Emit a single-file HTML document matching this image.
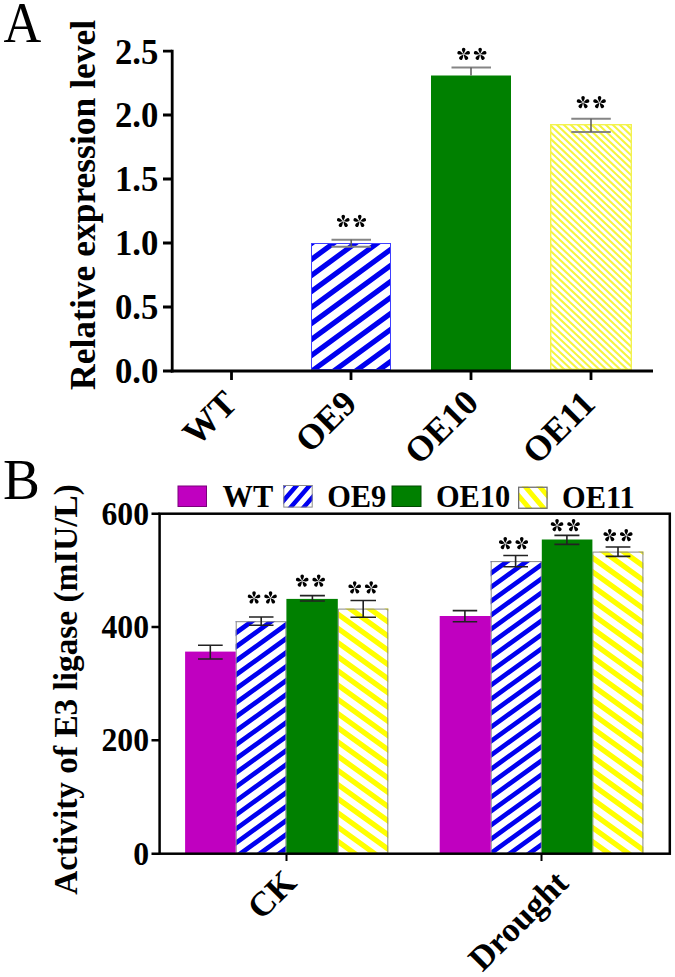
<!DOCTYPE html>
<html><head><meta charset="utf-8">
<style>
html,body{margin:0;padding:0;background:#fff;}
body{width:675px;height:977px;overflow:hidden;}
svg{display:block;}
text{font-family:"Liberation Serif",serif;fill:#000;}
</style></head>
<body>
<svg width="675" height="977" viewBox="0 0 675 977">
<defs>
<g id="star"><path d="M0,-0.3 C-0.35,-1.2 -1.80,-3.45 -1.80,-4.75 A1.8,1.8 0 0 1 1.80,-4.75 C1.80,-3.45 0.35,-1.2 0,-0.3Z" transform="rotate(0)"/><path d="M0,-0.3 C-0.35,-1.2 -1.80,-3.45 -1.80,-4.75 A1.8,1.8 0 0 1 1.80,-4.75 C1.80,-3.45 0.35,-1.2 0,-0.3Z" transform="rotate(72)"/><path d="M0,-0.3 C-0.35,-1.2 -1.80,-3.45 -1.80,-4.75 A1.8,1.8 0 0 1 1.80,-4.75 C1.80,-3.45 0.35,-1.2 0,-0.3Z" transform="rotate(144)"/><path d="M0,-0.3 C-0.35,-1.2 -1.80,-3.45 -1.80,-4.75 A1.8,1.8 0 0 1 1.80,-4.75 C1.80,-3.45 0.35,-1.2 0,-0.3Z" transform="rotate(216)"/><path d="M0,-0.3 C-0.35,-1.2 -1.80,-3.45 -1.80,-4.75 A1.8,1.8 0 0 1 1.80,-4.75 C1.80,-3.45 0.35,-1.2 0,-0.3Z" transform="rotate(288)"/></g>
<clipPath id="c1"><rect x="311.0" y="243.0" width="80.00" height="127.00"/></clipPath>
<clipPath id="c2"><rect x="550.0" y="124.0" width="82.00" height="246.00"/></clipPath>
<clipPath id="c3"><rect x="283.3" y="485.0" width="29.40" height="22.60"/></clipPath>
<clipPath id="c4"><rect x="518.0" y="486.6" width="29.70" height="22.30"/></clipPath>
<clipPath id="c5"><rect x="235.7" y="621.2" width="50.70" height="232.40"/></clipPath>
<clipPath id="c6"><rect x="337.8" y="608.6" width="50.50" height="245.00"/></clipPath>
<clipPath id="c7"><rect x="490.7" y="561.1" width="51.10" height="292.50"/></clipPath>
<clipPath id="c8"><rect x="592.4" y="551.6" width="51.00" height="302.00"/></clipPath>
</defs>
<g clip-path="url(#c1)"><path d="M274.95,238.00L87.44,375.00M296.85,238.00L109.34,375.00M318.75,238.00L131.24,375.00M340.65,238.00L153.14,375.00M362.55,238.00L175.04,375.00M384.45,238.00L196.94,375.00M406.35,238.00L218.84,375.00M428.25,238.00L240.74,375.00M450.15,238.00L262.64,375.00M472.05,238.00L284.54,375.00M493.95,238.00L306.44,375.00M515.85,238.00L328.34,375.00M537.75,238.00L350.24,375.00M559.65,238.00L372.14,375.00M581.55,238.00L394.04,375.00M603.45,238.00L415.94,375.00" stroke="#0000f0" stroke-width="5.2" fill="none"/></g><rect x="311.5" y="243.5" width="79.00" height="126.00" fill="none" stroke="#4040ff" stroke-width="1"/>
<rect x="431" y="75.5" width="80" height="295" fill="#008000"/>
<g clip-path="url(#c2)"><path d="M270.64,119.00L542.15,375.00M277.64,119.00L549.15,375.00M284.64,119.00L556.15,375.00M291.64,119.00L563.15,375.00M298.64,119.00L570.15,375.00M305.64,119.00L577.15,375.00M312.64,119.00L584.15,375.00M319.64,119.00L591.15,375.00M326.64,119.00L598.15,375.00M333.64,119.00L605.15,375.00M340.64,119.00L612.15,375.00M347.64,119.00L619.15,375.00M354.64,119.00L626.15,375.00M361.64,119.00L633.15,375.00M368.64,119.00L640.15,375.00M375.64,119.00L647.15,375.00M382.64,119.00L654.15,375.00M389.64,119.00L661.15,375.00M396.64,119.00L668.15,375.00M403.64,119.00L675.15,375.00M410.64,119.00L682.15,375.00M417.64,119.00L689.15,375.00M424.64,119.00L696.15,375.00M431.64,119.00L703.15,375.00M438.64,119.00L710.15,375.00M445.64,119.00L717.15,375.00M452.64,119.00L724.15,375.00M459.64,119.00L731.15,375.00M466.64,119.00L738.15,375.00M473.64,119.00L745.15,375.00M480.64,119.00L752.15,375.00M487.64,119.00L759.15,375.00M494.64,119.00L766.15,375.00M501.64,119.00L773.15,375.00M508.64,119.00L780.15,375.00M515.64,119.00L787.15,375.00M522.64,119.00L794.15,375.00M529.64,119.00L801.15,375.00M536.64,119.00L808.15,375.00M543.64,119.00L815.15,375.00M550.64,119.00L822.15,375.00M557.64,119.00L829.15,375.00M564.64,119.00L836.15,375.00M571.64,119.00L843.15,375.00M578.64,119.00L850.15,375.00M585.64,119.00L857.15,375.00M592.64,119.00L864.15,375.00M599.64,119.00L871.15,375.00M606.64,119.00L878.15,375.00M613.64,119.00L885.15,375.00M620.64,119.00L892.15,375.00M627.64,119.00L899.15,375.00M634.64,119.00L906.15,375.00" stroke="#f4f440" stroke-width="2.1" fill="none"/></g><rect x="550.7" y="124.7" width="80.60" height="244.60" fill="none" stroke="#f2f250" stroke-width="1.4"/>
<g stroke="#858585" stroke-width="2" fill="none">
<path d="M331.5,239.7 H371 M331.5,246.7 H371"/>
<path d="M451.5,67.6 H491"/>
<path d="M571.3,118.8 H610.8 M571.3,132.1 H610.8"/>
</g>
<g stroke="#5a5a5a" stroke-width="1.5" fill="none">
<path d="M351.2,239.7 V246.7 M471,67.6 V75.5 M591,118.8 V132.1"/>
</g>
<g fill="#000">
<use href="#star" x="343.25" y="221.35"/><use href="#star" x="359.75" y="221.35"/>
<use href="#star" x="463.65" y="54.25"/><use href="#star" x="480.15" y="54.25"/>
<use href="#star" x="583.05" y="102.55"/><use href="#star" x="599.55" y="102.55"/>
</g>
<g stroke="#000" stroke-width="2.8" fill="none">
<path d="M172.2,49.8 V372.4"/>
<path d="M170.8,371 H653"/>
<path d="M163,51.2 H172 M163,115 H172 M163,179 H172 M163,243 H172 M163,307 H172 M163,371 H172"/>
<path d="M231.5,371 V380 M351,371 V380 M471,371 V380 M591,371 V380"/>
</g>
<rect x="178" y="486" width="28.5" height="20.5" fill="#c000c0" stroke="#7a007a" stroke-width="1"/>
<g clip-path="url(#c3)"><path d="M262.40,480.00L234.15,512.60M275.40,480.00L247.15,512.60M288.40,480.00L260.15,512.60M301.40,480.00L273.15,512.60M314.40,480.00L286.15,512.60M327.40,480.00L299.15,512.60M340.40,480.00L312.15,512.60M353.40,480.00L325.15,512.60" stroke="#0000f0" stroke-width="4.5" fill="none"/></g><rect x="283.8" y="485.5" width="28.40" height="21.60" fill="none" stroke="#8a8a8a" stroke-width="1"/>
<rect x="392" y="486" width="29" height="20.5" fill="#008000" stroke="#004a00" stroke-width="1"/>
<g clip-path="url(#c4)"><path d="M477.49,481.60L505.04,513.90M491.99,481.60L519.54,513.90M506.49,481.60L534.04,513.90M520.99,481.60L548.54,513.90M535.49,481.60L563.04,513.90M549.99,481.60L577.54,513.90M564.49,481.60L592.04,513.90" stroke="#ffff00" stroke-width="5.0" fill="none"/></g><rect x="518.65" y="487.25" width="28.40" height="21.00" fill="none" stroke="#707070" stroke-width="1.3"/>
<g clip-path="url(#c5)"><path d="M220.20,616.20L-115.69,858.60M239.60,616.20L-96.29,858.60M259.00,616.20L-76.89,858.60M278.40,616.20L-57.49,858.60M297.80,616.20L-38.09,858.60M317.20,616.20L-18.69,858.60M336.60,616.20L0.71,858.60M356.00,616.20L20.11,858.60M375.40,616.20L39.51,858.60M394.80,616.20L58.91,858.60M414.20,616.20L78.31,858.60M433.60,616.20L97.71,858.60M453.00,616.20L117.11,858.60M472.40,616.20L136.51,858.60M491.80,616.20L155.91,858.60M511.20,616.20L175.31,858.60M530.60,616.20L194.71,858.60M550.00,616.20L214.11,858.60M569.40,616.20L233.51,858.60M588.80,616.20L252.91,858.60M608.20,616.20L272.31,858.60M627.60,616.20L291.71,858.60M647.00,616.20L311.11,858.60" stroke="#0000f0" stroke-width="4.7" fill="none"/></g><rect x="236.2" y="621.7" width="49.70" height="231.40" fill="none" stroke="#888" stroke-width="1"/>
<g clip-path="url(#c6)"><path d="M-31.36,603.60L322.41,858.60M-11.66,603.60L342.11,858.60M8.04,603.60L361.81,858.60M27.74,603.60L381.51,858.60M47.44,603.60L401.21,858.60M67.14,603.60L420.91,858.60M86.84,603.60L440.61,858.60M106.54,603.60L460.31,858.60M126.24,603.60L480.01,858.60M145.94,603.60L499.71,858.60M165.64,603.60L519.41,858.60M185.34,603.60L539.11,858.60M205.04,603.60L558.81,858.60M224.74,603.60L578.51,858.60M244.44,603.60L598.21,858.60M264.14,603.60L617.91,858.60M283.84,603.60L637.61,858.60M303.54,603.60L657.31,858.60M323.24,603.60L677.01,858.60M342.94,603.60L696.71,858.60M362.64,603.60L716.41,858.60M382.34,603.60L736.11,858.60M402.04,603.60L755.81,858.60" stroke="#ffff00" stroke-width="5.3" fill="none"/></g><rect x="338.3" y="609.1" width="49.50" height="244.00" fill="none" stroke="#888" stroke-width="1"/>
<g clip-path="url(#c7)"><path d="M475.76,556.10L56.58,858.60M495.16,556.10L75.98,858.60M514.56,556.10L95.38,858.60M533.96,556.10L114.78,858.60M553.36,556.10L134.18,858.60M572.76,556.10L153.58,858.60M592.16,556.10L172.98,858.60M611.56,556.10L192.38,858.60M630.96,556.10L211.78,858.60M650.36,556.10L231.18,858.60M669.76,556.10L250.58,858.60M689.16,556.10L269.98,858.60M708.56,556.10L289.38,858.60M727.96,556.10L308.78,858.60M747.36,556.10L328.18,858.60M766.76,556.10L347.58,858.60M786.16,556.10L366.98,858.60M805.56,556.10L386.38,858.60M824.96,556.10L405.78,858.60M844.36,556.10L425.18,858.60M863.76,556.10L444.58,858.60M883.16,556.10L463.98,858.60M902.56,556.10L483.38,858.60M921.96,556.10L502.78,858.60M941.36,556.10L522.18,858.60M960.76,556.10L541.58,858.60M980.16,556.10L560.98,858.60" stroke="#0000f0" stroke-width="4.7" fill="none"/></g><rect x="491.2" y="561.6" width="50.10" height="291.50" fill="none" stroke="#888" stroke-width="1"/>
<g clip-path="url(#c8)"><path d="M143.65,546.60L576.49,858.60M163.35,546.60L596.19,858.60M183.05,546.60L615.89,858.60M202.75,546.60L635.59,858.60M222.45,546.60L655.29,858.60M242.15,546.60L674.99,858.60M261.85,546.60L694.69,858.60M281.55,546.60L714.39,858.60M301.25,546.60L734.09,858.60M320.95,546.60L753.79,858.60M340.65,546.60L773.49,858.60M360.35,546.60L793.19,858.60M380.05,546.60L812.89,858.60M399.75,546.60L832.59,858.60M419.45,546.60L852.29,858.60M439.15,546.60L871.99,858.60M458.85,546.60L891.69,858.60M478.55,546.60L911.39,858.60M498.25,546.60L931.09,858.60M517.95,546.60L950.79,858.60M537.65,546.60L970.49,858.60M557.35,546.60L990.19,858.60M577.05,546.60L1009.89,858.60M596.75,546.60L1029.59,858.60M616.45,546.60L1049.29,858.60M636.15,546.60L1068.99,858.60M655.85,546.60L1088.69,858.60M675.55,546.60L1108.39,858.60" stroke="#ffff00" stroke-width="5.3" fill="none"/></g><rect x="592.9" y="552.1" width="50.00" height="301.00" fill="none" stroke="#888" stroke-width="1"/>
<rect x="185.1" y="651.6" width="50.6" height="202.0" fill="#c000c0"/>
<rect x="286.4" y="598.9" width="51.4" height="254.7" fill="#008000"/>
<rect x="439.7" y="616.0" width="51.0" height="237.6" fill="#c000c0"/>
<rect x="541.8" y="539.5" width="50.6" height="314.1" fill="#008000"/>
<g stroke="#222" stroke-width="1.6" fill="none">
<path d="M198,645.2 H222.7 M198,659 H222.7 M210.3,645.2 V659"/>
<path d="M249,617 H273.5 M249,625.2 H273.5 M261.2,617 V625.2"/>
<path d="M299.9,595.6 H324.9 M299.9,601 H324.9 M312.4,595.6 V601"/>
<path d="M350.5,600.5 H376 M350.5,617.2 H376 M363.2,600.5 V617.2"/>
<path d="M452.7,610.6 H477.2 M452.7,621.8 H477.2 M464.9,610.6 V621.8"/>
<path d="M503.3,555.5 H528 M503.3,566.7 H528 M515.6,555.5 V566.7"/>
<path d="M554.4,535.4 H579.4 M554.4,544.4 H579.4 M566.9,535.4 V544.4"/>
<path d="M605.6,547 H630.4 M605.6,556.4 H630.4 M618.0,547 V556.4"/>
</g>
<g fill="#000">
<use href="#star" x="254.05" y="597.85"/><use href="#star" x="270.55" y="597.85"/>
<use href="#star" x="302.20" y="581.05"/><use href="#star" x="318.70" y="581.05"/>
<use href="#star" x="354.70" y="587.75"/><use href="#star" x="371.20" y="587.75"/>
<use href="#star" x="505.25" y="543.55"/><use href="#star" x="521.75" y="543.55"/>
<use href="#star" x="557.05" y="525.55"/><use href="#star" x="573.55" y="525.55"/>
<use href="#star" x="609.75" y="535.55"/><use href="#star" x="626.25" y="535.55"/>
</g>
<g stroke="#000" stroke-width="2.5" fill="none">
<rect x="159.6" y="513.7" width="510.2" height="340"/>
<path d="M151.5,513.7 H159.6 M151.5,627 H159.6 M151.5,740.3 H159.6 M151.5,853.7 H159.6"/>
</g>
<path d="M286.5,853.7 V861 M541.5,853.7 V861" stroke="#000" stroke-width="2"/>
<text transform="translate(3.6,41.5) scale(0.918,1)" font-size="57">A</text>
<text transform="translate(3.1,498.7) scale(0.982,1)" font-size="56.3">B</text>
<text transform="translate(158.4,63.6) scale(0.955,1)" font-size="36.4" font-weight="bold" text-anchor="end">2.5</text>
<text transform="translate(158.4,127.4) scale(0.955,1)" font-size="36.4" font-weight="bold" text-anchor="end">2.0</text>
<text transform="translate(158.4,191.4) scale(0.955,1)" font-size="36.4" font-weight="bold" text-anchor="end">1.5</text>
<text transform="translate(158.4,255.4) scale(0.955,1)" font-size="36.4" font-weight="bold" text-anchor="end">1.0</text>
<text transform="translate(158.4,319.4) scale(0.955,1)" font-size="36.4" font-weight="bold" text-anchor="end">0.5</text>
<text transform="translate(158.4,383.4) scale(0.955,1)" font-size="36.4" font-weight="bold" text-anchor="end">0.0</text>
<text transform="translate(149.0,524.7) scale(0.96,1)" font-size="33" font-weight="bold" text-anchor="end">600</text>
<text transform="translate(149.0,638) scale(0.96,1)" font-size="33" font-weight="bold" text-anchor="end">400</text>
<text transform="translate(149.0,751.3) scale(0.96,1)" font-size="33" font-weight="bold" text-anchor="end">200</text>
<text transform="translate(149.0,864.6) scale(0.96,1)" font-size="33" font-weight="bold" text-anchor="end">0</text>
<text transform="translate(222.6,506.8) scale(0.95,1)" font-size="32" font-weight="bold">WT</text>
<text transform="translate(327.2,506.8) scale(0.95,1)" font-size="32" font-weight="bold">OE9</text>
<text transform="translate(435.9,507.3) scale(0.95,1)" font-size="32" font-weight="bold">OE10</text>
<text transform="translate(562.0,508.0) scale(0.95,1)" font-size="32" font-weight="bold">OE11</text>
<text transform="translate(238.9,405.5) rotate(-45)" font-size="35.5" font-weight="bold" text-anchor="end">WT</text>
<text transform="translate(358.5,405.5) rotate(-45)" font-size="35.5" font-weight="bold" text-anchor="end">OE9</text>
<text transform="translate(480.4,404.6) rotate(-45)" font-size="35.5" font-weight="bold" text-anchor="end">OE10</text>
<text transform="translate(597.0,405.8) rotate(-45)" font-size="35.5" font-weight="bold" text-anchor="end">OE11</text>
<text transform="translate(298.2,884.5) rotate(-45)" font-size="34.5" font-weight="bold" text-anchor="end">CK</text>
<text transform="translate(570.1,885.1) rotate(-45)" font-size="34.5" font-weight="bold" text-anchor="end">Drought</text>
<text transform="translate(95.2,389.9) rotate(-90)" font-size="35.5" font-weight="bold">Relative expression level</text>
<text transform="translate(77.3,894.8) rotate(-90)" font-size="33.3" font-weight="bold">Activity of E3 ligase (mIU/L)</text>
</svg>
</body></html>
